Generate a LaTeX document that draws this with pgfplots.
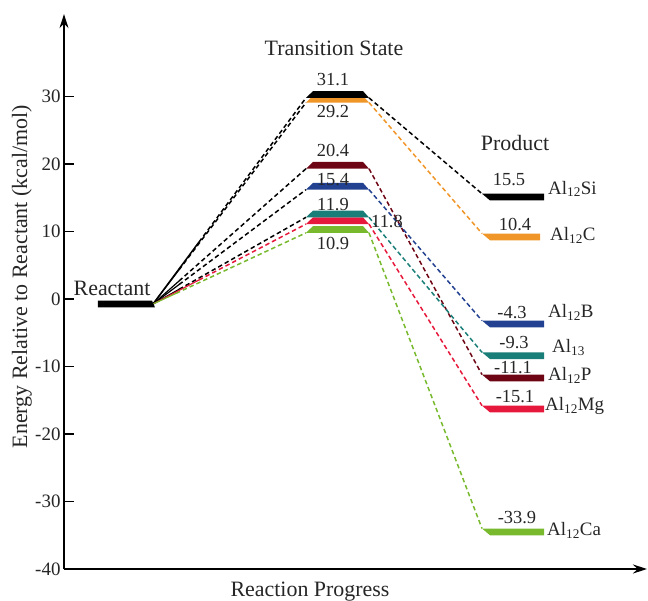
\documentclass[border=0pt]{standalone}
\usepackage{pgfplots}
\pgfplotsset{compat=1.18}
\usepackage{fontspec}
\setmainfont{Liberation Serif}
\usetikzlibrary{arrows.meta}
\definecolor{cOrange}{RGB}{240,150,40}
\definecolor{cDarkRed}{RGB}{110,5,20}
\definecolor{cBlue}{RGB}{35,65,145}
\definecolor{cTeal}{RGB}{25,125,120}
\definecolor{cRed}{RGB}{230,25,60}
\definecolor{cGreen}{RGB}{120,185,45}
\begin{document}
\begin{tikzpicture}
\begin{axis}[
  scale only axis, width=583bp, height=554.85bp,
  xmin=64, xmax=647, ymin=-40, ymax=42.2,
  axis lines=left,
  axis line style={line width=1.5bp, -{Stealth[length=14bp,width=9bp]}},
  xtick=\empty,
  ytick={-40,-30,-20,-10,0,10,20,30},
  yticklabels={-40,-30,-20,-10,0,10,20,30},
  tick align=inside, major tick length=10bp,
  tick style={line width=1.2bp, black},
  yticklabel style={font=\fontsize{19}{19}\selectfont, text=black!85},
  clip=false,
]
% ---- left connectors (solid part + dashed part)
\addplot[black, line width=1.5bp] coordinates {(153,-0.75) (198.9,8.42)};
\addplot[black, line width=1.5bp, dash pattern=on 4.5bp off 3bp] coordinates {(198.9,8.42) (306,29.8)};
\addplot[black, line width=1.2bp] coordinates {(153,-0.75) (179,4.32)};
\addplot[black, line width=1.5bp, dash pattern=on 4.5bp off 3bp] coordinates {(179,4.32) (306,29.1)};
\addplot[black, line width=1.2bp] coordinates {(153,-0.75) (179,2.66)};
\addplot[black, line width=1.5bp, dash pattern=on 4.5bp off 3bp] coordinates {(179,2.66) (306,19.3)};
\addplot[black, line width=1.2bp] coordinates {(153,-0.75) (179,2.13)};
\addplot[black, line width=1.5bp, dash pattern=on 4.5bp off 3bp] coordinates {(179,2.13) (306,16.2)};
\addplot[black, line width=1.2bp] coordinates {(153,-0.75) (179,1.43)};
\addplot[black, line width=1.5bp, dash pattern=on 4.5bp off 3bp] coordinates {(179,1.43) (306,12.1)};
\addplot[cRed, line width=1.2bp] coordinates {(153,-0.75) (198.9,2.81)};
\addplot[cRed, line width=1.5bp, dash pattern=on 4.5bp off 3bp] coordinates {(198.9,2.81) (306,11.1)};
\addplot[cGreen, line width=1.2bp] coordinates {(153,-0.75) (176,0.83)};
\addplot[cGreen, line width=1.5bp, dash pattern=on 4.5bp off 3bp] coordinates {(176,0.83) (306,9.8)};
% ---- right connectors
\addplot[black, line width=1.5bp, dash pattern=on 4.5bp off 3bp] coordinates {(369,29.8) (482,15.6)};
\addplot[cOrange, line width=1.5bp, dash pattern=on 4.5bp off 3bp] coordinates {(369,29.1) (482,9.7)};
\addplot[cDarkRed, line width=1.5bp, dash pattern=on 4.5bp off 3bp] coordinates {(369,19.3) (482,-11.2)};
\addplot[cBlue, line width=1.5bp, dash pattern=on 4.5bp off 3bp] coordinates {(369,16.2) (482,-3.2)};
\addplot[cTeal, line width=1.5bp, dash pattern=on 4.5bp off 3bp] coordinates {(369,12.1) (482,-7.9)};
\addplot[cRed, line width=1.5bp, dash pattern=on 4.5bp off 3bp] coordinates {(369,11.1) (482,-15.8)};
\addplot[cGreen, line width=1.5bp, dash pattern=on 4.5bp off 3bp] coordinates {(369,9.8) (482,-34.0)};
% ---- reactant bar
\addplot[fill=black, draw=none] coordinates {(98,-0.25) (152,-0.25) (155,-1.25) (98,-1.25)} -- cycle;
% ---- transition state bars
\addplot[fill=cOrange, draw=none] coordinates {(313,30.1) (363,30.1) (369,29.1) (306,29.1)} -- cycle;
\addplot[fill=black, draw=none] coordinates {(313,30.8) (363,30.8) (369,29.8) (306,29.8)} -- cycle;
\addplot[fill=cDarkRed, draw=none] coordinates {(313,20.3) (363,20.3) (369,19.3) (306,19.3)} -- cycle;
\addplot[fill=cBlue, draw=none] coordinates {(313,17.2) (363,17.2) (369,16.2) (306,16.2)} -- cycle;
\addplot[fill=cGreen, draw=none] coordinates {(313,10.8) (363,10.8) (369,9.8) (306,9.8)} -- cycle;
\addplot[fill=cRed, draw=none] coordinates {(313,12.1) (363,12.1) (369,11.1) (306,11.1)} -- cycle;
\addplot[fill=cTeal, draw=none] coordinates {(313,13.1) (363,13.1) (369,12.1) (306,12.1)} -- cycle;
% ---- product bars
\addplot[fill=black, draw=none] coordinates {(482,15.6) (544,15.6) (544,14.6) (490,14.6)} -- cycle;
\addplot[fill=cOrange, draw=none] coordinates {(482,9.7) (540,9.7) (540,8.7) (490,8.7)} -- cycle;
\addplot[fill=cBlue, draw=none] coordinates {(482,-3.2) (544,-3.2) (544,-4.2) (490,-4.2)} -- cycle;
\addplot[fill=cTeal, draw=none] coordinates {(482,-7.9) (544,-7.9) (544,-8.9) (490,-8.9)} -- cycle;
\addplot[fill=cDarkRed, draw=none] coordinates {(482,-11.2) (544,-11.2) (544,-12.2) (490,-12.2)} -- cycle;
\addplot[fill=cRed, draw=none] coordinates {(482,-15.8) (544,-15.8) (544,-16.8) (490,-16.8)} -- cycle;
\addplot[fill=cGreen, draw=none] coordinates {(482,-34.0) (544,-34.0) (544,-35.0) (490,-35.0)} -- cycle;
% ---- texts
\begin{scope}[every node/.style={inner sep=0pt, text=black!85}]
\node[anchor=base, font=\fontsize{22}{22}\selectfont] at (axis cs:112,0.5) {Reactant};
\node[anchor=base, font=\fontsize{22}{22}\selectfont] at (axis cs:334,36.05) {Transition State};
\node[anchor=base, font=\fontsize{22}{22}\selectfont] at (axis cs:515,22.0) {Product};
\node[anchor=base, font=\fontsize{18.5}{18.5}\selectfont] at (axis cs:333,31.7) {31.1};
\node[anchor=base, font=\fontsize{18.5}{18.5}\selectfont] at (axis cs:333,26.9) {29.2};
\node[anchor=base, font=\fontsize{18.5}{18.5}\selectfont] at (axis cs:333,21.1) {20.4};
\node[anchor=base, font=\fontsize{18.5}{18.5}\selectfont] at (axis cs:333,16.8) {15.4};
\node[anchor=base, font=\fontsize{18.5}{18.5}\selectfont] at (axis cs:333,13.1) {11.9};
\node[anchor=base, font=\fontsize{18.5}{18.5}\selectfont] at (axis cs:387,10.6) {11.8};
\node[anchor=base, font=\fontsize{18.5}{18.5}\selectfont] at (axis cs:333,7.4) {10.9};
\node[anchor=base, font=\fontsize{18.5}{18.5}\selectfont] at (axis cs:509,16.8) {15.5};
\node[anchor=base, font=\fontsize{18.5}{18.5}\selectfont] at (axis cs:515,10.1) {10.4};
\node[anchor=base, font=\fontsize{18.5}{18.5}\selectfont] at (axis cs:512,-2.96) {-4.3};
\node[anchor=base, font=\fontsize{18.5}{18.5}\selectfont] at (axis cs:514,-7.4) {-9.3};
\node[anchor=base, font=\fontsize{18.5}{18.5}\selectfont] at (axis cs:513,-11.1) {-11.1};
\node[anchor=base, font=\fontsize{18.5}{18.5}\selectfont] at (axis cs:515,-15.3) {-15.1};
\node[anchor=base, font=\fontsize{18.5}{18.5}\selectfont] at (axis cs:517,-33.3) {-33.9};
\node[anchor=base west, font=\fontsize{19}{19}\selectfont] at (axis cs:548,15.55) {Al\textsubscript{12}Si};
\node[anchor=base west, font=\fontsize{19}{19}\selectfont] at (axis cs:550,8.6) {Al\textsubscript{12}C};
\node[anchor=base west, font=\fontsize{19}{19}\selectfont] at (axis cs:548,-2.7) {Al\textsubscript{12}B};
\node[anchor=base west, font=\fontsize{19}{19}\selectfont] at (axis cs:552,-7.9) {Al\textsubscript{13}};
\node[anchor=base west, font=\fontsize{19}{19}\selectfont] at (axis cs:548,-12.1) {Al\textsubscript{12}P};
\node[anchor=base west, font=\fontsize{19}{19}\selectfont] at (axis cs:545,-16.5) {Al\textsubscript{12}Mg};
\node[anchor=base west, font=\fontsize{19}{19}\selectfont] at (axis cs:547,-35.1) {Al\textsubscript{12}Ca};
\node[rotate=90, font=\fontsize{22}{22}\selectfont] at (axis cs:22,3.3) {Energy Relative to Reactant (kcal/mol)};
\node[anchor=base, font=\fontsize{22}{22}\selectfont] at (axis cs:310,-44.1) {Reaction Progress};
\end{scope}
\end{axis}
\pgfresetboundingbox
\path[use as bounding box] (-64bp,-32bp) rectangle (584bp,569bp);
\end{tikzpicture}
\end{document}
